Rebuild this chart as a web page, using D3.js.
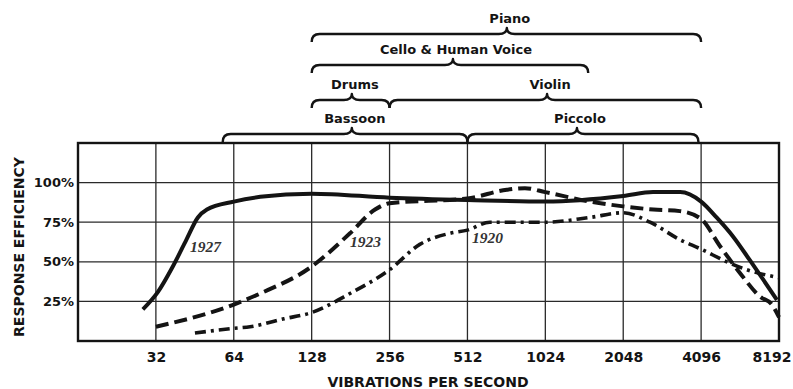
<!DOCTYPE html>
<html>
<head>
<meta charset="utf-8">
<script src="https://cdn.jsdelivr.net/npm/d3@7"></script>
<style>
  html, body { margin: 0; padding: 0; background: #fff; }
  svg { display: block; }
</style>
</head>
<body>
<svg id="chart" width="793" height="389"></svg>
<script>
// Frequency axis (vibrations per second) and response-efficiency axis
const freqTicks = [32, 64, 128, 256, 512, 1024, 2048, 4096, 8192];
const freqTickLabels = ["32", "64", "128", "256", "512", "1024", "2048", "4096", "8192"];
const effTicks = [25, 50, 75, 100];
const effTickLabels = ["25%", "50%", "75%", "100%"];

// Response curves, one per year
const hz1927 = [28.5, 32.6, 37.2, 42, 46.5, 50.4, 64, 81, 128, 256, 512, 1024, 2048, 2670, 3400, 4096, 4700, 5440, 6320, 7100, 8040];
const eff1927 = [20, 31, 47, 64, 78, 83, 88, 91, 93, 90.5, 89, 88, 91.5, 94, 94, 88, 78, 66, 51, 39, 26];

const hz1923 = [32, 64, 81, 128, 180, 225, 256, 512, 727, 854, 1024, 1524, 2048, 2680, 3390, 4096, 4840, 5785, 6920, 7690, 8192];
const eff1923 = [9, 23, 30, 47, 68, 83, 87, 90, 95.5, 96.5, 94, 88, 85, 83, 82, 77, 60, 43, 28, 23, 15];

const hz1920 = [45.3, 64, 74, 100, 128, 180, 256, 335, 438, 512, 625, 1024, 1524, 2048, 2600, 3390, 4096, 5150, 6155, 8192];
const eff1920 = [5, 8, 9, 14, 18, 30, 45, 61, 68, 70, 75, 75, 78, 81, 75, 64, 58, 50, 45, 40];

const curveYears = ["1927", "1923", "1920"];

// Instrument ranges shown as braces above the plot
const instNames = ["Piano", "Cello & Human Voice", "Drums", "Violin", "Bassoon", "Piccolo"];
const instLow   = [128, 128, 128, 256, 58, 512];
const instHigh  = [4096, 1500, 256, 4096, 512, 4000];
const instMid   = [727, 450, 183, 1040, 183, 1357];
const instRow   = [0, 1, 2, 2, 3, 3];

const svg = d3.select("#chart");
const plot = { left: 78, right: 779, top: 143, bottom: 341 };

const x = d3.scaleLog().base(2).domain([16, 8192]).range([plot.left, plot.right]);
const y = d3.scaleLinear().domain([0, 125]).range([plot.bottom, plot.top]);

const ink = "#141414";

// Grid
const grid = svg.append("g");
grid.selectAll("line.v").data(freqTicks.slice(0, -1)).join("line")
  .attr("x1", d => x(d)).attr("x2", d => x(d))
  .attr("y1", plot.top).attr("y2", plot.bottom)
  .attr("stroke", "#2a2a2a").attr("stroke-width", 1.3);
grid.selectAll("line.h").data(effTicks).join("line")
  .attr("x1", plot.left).attr("x2", plot.right)
  .attr("y1", d => y(d)).attr("y2", d => y(d))
  .attr("stroke", "#2a2a2a").attr("stroke-width", 1.3);

// Frame
svg.append("rect")
  .attr("x", plot.left).attr("y", plot.top)
  .attr("width", plot.right - plot.left).attr("height", plot.bottom - plot.top)
  .attr("fill", "none").attr("stroke", ink).attr("stroke-width", 2.4);

// Axes (labels only; grid stands in for ticks)
const xAxis = d3.axisBottom(x).tickValues(freqTicks)
  .tickFormat((d, i) => freqTickLabels[i]).tickSize(0).tickPadding(0);
const gx = svg.append("g").attr("transform", `translate(0,${plot.bottom})`).call(xAxis);
gx.select(".domain").remove();
gx.selectAll("text")
  .attr("y", 21).attr("dy", null)
  .attr("font-family", "DejaVu Sans").attr("font-weight", "bold")
  .attr("font-size", 14).attr("fill", ink);
// last label sits against the right edge of the page
gx.selectAll(".tick").filter(d => d === 8192).select("text")
  .attr("text-anchor", "end").attr("x", 12);

const yAxis = d3.axisLeft(y).tickValues(effTicks)
  .tickFormat((d, i) => effTickLabels[i]).tickSize(0).tickPadding(4);
const gy = svg.append("g").attr("transform", `translate(${plot.left},0)`).call(yAxis);
gy.select(".domain").remove();
gy.selectAll("text")
  .attr("font-family", "DejaVu Sans").attr("font-weight", "bold")
  .attr("font-size", 13).attr("fill", ink);

// Axis titles
svg.append("text")
  .attr("x", 428).attr("y", 387)
  .attr("text-anchor", "middle")
  .attr("font-family", "DejaVu Sans").attr("font-weight", "bold")
  .attr("font-size", 14).attr("fill", ink)
  .text("VIBRATIONS PER SECOND");
svg.append("text")
  .attr("transform", "translate(24,247) rotate(-90)")
  .attr("text-anchor", "middle")
  .attr("font-family", "DejaVu Sans").attr("font-weight", "bold")
  .attr("font-size", 14).attr("fill", ink)
  .text("RESPONSE EFFICIENCY");

// Curves
const line = d3.line().x(d => x(d[0])).y(d => y(d[1])).curve(d3.curveMonotoneX);
const series = [
  { hz: hz1927, eff: eff1927, dash: null, w: 4 },
  { hz: hz1923, eff: eff1923, dash: "13,6", w: 4 },
  { hz: hz1920, eff: eff1920, dash: "11,5,3,5", w: 3.6 }
];
const gc = svg.append("g");
series.forEach(s => {
  gc.append("path")
    .datum(s.hz.map((h, i) => [h, s.eff[i]]))
    .attr("d", line)
    .attr("fill", "none")
    .attr("stroke", ink)
    .attr("stroke-width", s.w)
    .attr("stroke-dasharray", s.dash)
    .attr("stroke-linecap", "butt")
    .attr("stroke-linejoin", "round");
});

// Year labels beside each curve
const yearPos = [[190, 252], [350, 247], [472, 243]];
svg.selectAll("text.year").data(curveYears).join("text")
  .attr("class", "year")
  .attr("x", (d, i) => yearPos[i][0]).attr("y", (d, i) => yearPos[i][1])
  .attr("font-family", "Liberation Serif").attr("font-style", "italic")
  .attr("font-weight", "bold").attr("font-size", 15.5)
  .attr("fill", "#333")
  .text(d => d);

// Curly braces for instrument ranges
const rowY = [34, 65, 100, 134];
function bracePath(x1, x2, xm, yl) {
  const hook = 8, rise = 6, r = 8;
  const p = d3.path();
  p.moveTo(x1, yl + hook);
  p.quadraticCurveTo(x1, yl, x1 + r, yl);
  p.lineTo(xm - r, yl);
  p.quadraticCurveTo(xm, yl, xm, yl - rise);
  p.quadraticCurveTo(xm, yl, xm + r, yl);
  p.lineTo(x2 - r, yl);
  p.quadraticCurveTo(x2, yl, x2, yl + hook);
  return p.toString();
}
const gb = svg.append("g");
instNames.forEach((name, i) => {
  const yl = rowY[instRow[i]];
  gb.append("path")
    .attr("d", bracePath(x(instLow[i]), x(instHigh[i]), x(instMid[i]), yl))
    .attr("fill", "none").attr("stroke", ink).attr("stroke-width", 2.4)
    .attr("stroke-linejoin", "round");
  gb.append("text")
    .attr("x", x(instMid[i]) + 3).attr("y", yl - 11)
    .attr("text-anchor", "middle")
    .attr("font-family", "DejaVu Sans").attr("font-weight", "bold")
    .attr("font-size", 13).attr("fill", ink)
    .text(name);
});
</script>
</body>
</html>
